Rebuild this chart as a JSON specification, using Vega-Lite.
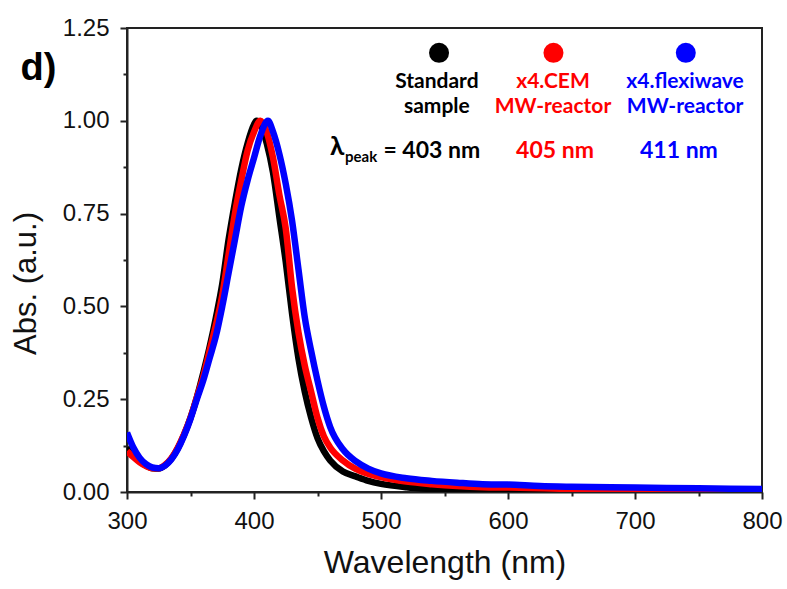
{
  "$schema": "https://vega.github.io/schema/vega-lite/v6.json",
  "width": 635,
  "height": 464,
  "autosize": {"type": "none"},
  "padding": {"left": 127, "top": 28, "right": 25, "bottom": 97},
  "background": "white",
  "config": {
    "view": {"stroke": "#222", "strokeWidth": 2},
    "axis": {
      "domainColor": "#222", "domainWidth": 2, "tickColor": "#222", "tickWidth": 2,
      "grid": false, "labelFont": "Liberation Sans", "labelFontSize": 24, "labelColor": "#111", "labelFlush": false, "labelOverlap": false,
      "titleFont": "Liberation Sans", "titleFontSize": 32, "titleFontWeight": "normal", "titleColor": "#111"
    }
  },
  "datasets": {
    "spectra": [
      {"wl":300,"s":"Standard","a":0.12},{"wl":305,"s":"Standard","a":0.1},{"wl":310,"s":"Standard","a":0.083},{"wl":315,"s":"Standard","a":0.071},{"wl":320,"s":"Standard","a":0.064},{"wl":325,"s":"Standard","a":0.063},{"wl":330,"s":"Standard","a":0.072},{"wl":335,"s":"Standard","a":0.09},{"wl":340,"s":"Standard","a":0.118},{"wl":345,"s":"Standard","a":0.155},{"wl":350,"s":"Standard","a":0.2},{"wl":355,"s":"Standard","a":0.255},{"wl":360,"s":"Standard","a":0.32},{"wl":365,"s":"Standard","a":0.39},{"wl":370,"s":"Standard","a":0.47},{"wl":375,"s":"Standard","a":0.56},{"wl":380,"s":"Standard","a":0.68},{"wl":385,"s":"Standard","a":0.78},{"wl":390,"s":"Standard","a":0.87},{"wl":395,"s":"Standard","a":0.94},{"wl":400,"s":"Standard","a":0.99},{"wl":402,"s":"Standard","a":1.0},{"wl":405,"s":"Standard","a":0.99},{"wl":410,"s":"Standard","a":0.94},{"wl":415,"s":"Standard","a":0.86},{"wl":420,"s":"Standard","a":0.74},{"wl":425,"s":"Standard","a":0.62},{"wl":430,"s":"Standard","a":0.48},{"wl":435,"s":"Standard","a":0.36},{"wl":440,"s":"Standard","a":0.27},{"wl":445,"s":"Standard","a":0.2},{"wl":450,"s":"Standard","a":0.145},{"wl":455,"s":"Standard","a":0.11},{"wl":460,"s":"Standard","a":0.085},{"wl":470,"s":"Standard","a":0.055},{"wl":480,"s":"Standard","a":0.042},{"wl":490,"s":"Standard","a":0.03},{"wl":500,"s":"Standard","a":0.022},{"wl":520,"s":"Standard","a":0.013},{"wl":540,"s":"Standard","a":0.008},{"wl":560,"s":"Standard","a":0.005},{"wl":580,"s":"Standard","a":0.004},{"wl":600,"s":"Standard","a":0.003},{"wl":650,"s":"Standard","a":0.002},{"wl":700,"s":"Standard","a":0.001},{"wl":800,"s":"Standard","a":0.0},
      {"wl":300,"s":"CEM","a":0.11},{"wl":305,"s":"CEM","a":0.094},{"wl":310,"s":"CEM","a":0.08},{"wl":315,"s":"CEM","a":0.07},{"wl":320,"s":"CEM","a":0.064},{"wl":325,"s":"CEM","a":0.064},{"wl":330,"s":"CEM","a":0.073},{"wl":335,"s":"CEM","a":0.091},{"wl":340,"s":"CEM","a":0.119},{"wl":345,"s":"CEM","a":0.156},{"wl":350,"s":"CEM","a":0.2},{"wl":355,"s":"CEM","a":0.255},{"wl":360,"s":"CEM","a":0.31},{"wl":365,"s":"CEM","a":0.38},{"wl":370,"s":"CEM","a":0.45},{"wl":375,"s":"CEM","a":0.53},{"wl":380,"s":"CEM","a":0.64},{"wl":385,"s":"CEM","a":0.75},{"wl":390,"s":"CEM","a":0.84},{"wl":395,"s":"CEM","a":0.92},{"wl":400,"s":"CEM","a":0.97},{"wl":405,"s":"CEM","a":1.0},{"wl":410,"s":"CEM","a":0.97},{"wl":415,"s":"CEM","a":0.9},{"wl":420,"s":"CEM","a":0.8},{"wl":425,"s":"CEM","a":0.71},{"wl":430,"s":"CEM","a":0.55},{"wl":435,"s":"CEM","a":0.43},{"wl":440,"s":"CEM","a":0.34},{"wl":445,"s":"CEM","a":0.27},{"wl":450,"s":"CEM","a":0.2},{"wl":455,"s":"CEM","a":0.15},{"wl":460,"s":"CEM","a":0.12},{"wl":470,"s":"CEM","a":0.085},{"wl":480,"s":"CEM","a":0.062},{"wl":490,"s":"CEM","a":0.049},{"wl":500,"s":"CEM","a":0.04},{"wl":520,"s":"CEM","a":0.028},{"wl":540,"s":"CEM","a":0.021},{"wl":560,"s":"CEM","a":0.016},{"wl":580,"s":"CEM","a":0.013},{"wl":600,"s":"CEM","a":0.012},{"wl":650,"s":"CEM","a":0.008},{"wl":700,"s":"CEM","a":0.005},{"wl":750,"s":"CEM","a":0.004},{"wl":800,"s":"CEM","a":0.003},
      {"wl":300,"s":"flexiwave","a":0.16},{"wl":305,"s":"flexiwave","a":0.12},{"wl":310,"s":"flexiwave","a":0.092},{"wl":315,"s":"flexiwave","a":0.075},{"wl":320,"s":"flexiwave","a":0.066},{"wl":325,"s":"flexiwave","a":0.064},{"wl":330,"s":"flexiwave","a":0.071},{"wl":335,"s":"flexiwave","a":0.088},{"wl":340,"s":"flexiwave","a":0.115},{"wl":345,"s":"flexiwave","a":0.152},{"wl":350,"s":"flexiwave","a":0.197},{"wl":355,"s":"flexiwave","a":0.25},{"wl":360,"s":"flexiwave","a":0.3},{"wl":365,"s":"flexiwave","a":0.36},{"wl":370,"s":"flexiwave","a":0.42},{"wl":375,"s":"flexiwave","a":0.5},{"wl":380,"s":"flexiwave","a":0.59},{"wl":385,"s":"flexiwave","a":0.68},{"wl":390,"s":"flexiwave","a":0.77},{"wl":395,"s":"flexiwave","a":0.84},{"wl":400,"s":"flexiwave","a":0.9},{"wl":405,"s":"flexiwave","a":0.96},{"wl":411,"s":"flexiwave","a":1.0},{"wl":415,"s":"flexiwave","a":0.97},{"wl":420,"s":"flexiwave","a":0.91},{"wl":425,"s":"flexiwave","a":0.83},{"wl":430,"s":"flexiwave","a":0.73},{"wl":435,"s":"flexiwave","a":0.6},{"wl":440,"s":"flexiwave","a":0.47},{"wl":445,"s":"flexiwave","a":0.38},{"wl":450,"s":"flexiwave","a":0.3},{"wl":455,"s":"flexiwave","a":0.23},{"wl":460,"s":"flexiwave","a":0.175},{"wl":470,"s":"flexiwave","a":0.115},{"wl":480,"s":"flexiwave","a":0.083},{"wl":490,"s":"flexiwave","a":0.063},{"wl":500,"s":"flexiwave","a":0.05},{"wl":520,"s":"flexiwave","a":0.037},{"wl":540,"s":"flexiwave","a":0.03},{"wl":560,"s":"flexiwave","a":0.025},{"wl":580,"s":"flexiwave","a":0.021},{"wl":600,"s":"flexiwave","a":0.02},{"wl":625,"s":"flexiwave","a":0.016},{"wl":650,"s":"flexiwave","a":0.014},{"wl":700,"s":"flexiwave","a":0.012},{"wl":750,"s":"flexiwave","a":0.01},{"wl":800,"s":"flexiwave","a":0.008}
    ],
    "dots": [
      {"wl":545.7,"s":"Standard","a":1.183},
      {"wl":635.8,"s":"CEM","a":1.183},
      {"wl":740,"s":"flexiwave","a":1.183}
    ],
    "labels": [
      {"wl":544,"s":"Standard","a":1.089,"t":"Standard"},
      {"wl":544,"s":"Standard","a":1.02,"t":"sample"},
      {"wl":635.4,"s":"CEM","a":1.089,"t":"x4.CEM"},
      {"wl":635.4,"s":"CEM","a":1.02,"t":"MW-reactor"},
      {"wl":739.4,"s":"flexiwave","a":1.089,"t":"x4.flexiwave"},
      {"wl":739.4,"s":"flexiwave","a":1.02,"t":"MW-reactor"}
    ],
    "peaks": [
      {"wl":540,"s":"Standard","a":0.9,"t":"= 403 nm"},
      {"wl":637,"s":"CEM","a":0.9,"t":"405 nm"},
      {"wl":734.6,"s":"flexiwave","a":0.9,"t":"411 nm"}
    ]
  },
  "encoding": {
    "x": {"field": "wl", "type": "quantitative", "scale": {"domain": [300, 800], "nice": false, "zero": false},
      "axis": {"orient": "bottom", "title": "Wavelength (nm)", "values": [300,350,400,450,500,550,600,650,700,750,800],
        "labelExpr": "datum.value % 100 == 0 ? datum.label : ''",
        "tickSize": {"condition": {"test": "datum.value % 100 != 0", "value": 4}, "value": 7},
        "labelPadding": 10, "titlePadding": 14}},
    "y": {"field": "a", "type": "quantitative", "scale": {"domain": [0, 1.25], "nice": false},
      "axis": {"orient": "left", "title": "Abs. (a.u.)", "values": [0,0.125,0.25,0.375,0.5,0.625,0.75,0.875,1,1.125,1.25], "format": ".2f",
        "labelExpr": "round(datum.value * 8) % 2 == 0 ? datum.label : ''",
        "tickSize": {"condition": {"test": "round(datum.value * 8) % 2 == 1", "value": 4}, "value": 7},
        "labelPadding": 11, "titleX": -101, "titleY": 255, "titleBaseline": "middle", "titleFontSize": 31}},
    "color": {"field": "s", "type": "nominal", "legend": null, "scale": {"domain": ["Standard", "CEM", "flexiwave"], "range": ["#000000", "#ff0000", "#0000ff"]}}
  },
  "layer": [
    {
      "data": {"name": "spectra"},
      "mark": {"type": "line", "strokeWidth": 6.5, "interpolate": "monotone", "clip": true},
      "encoding": {
        "order": {"field": "wl", "type": "quantitative"}
      }
    },
    {
      "data": {"name": "dots"},
      "mark": {"type": "point", "filled": true, "shape": "circle", "size": 400, "opacity": 1, "clip": false}
    },
    {
      "data": {"name": "labels"},
      "mark": {"type": "text", "font": "Lato", "fontWeight": "bold", "fontSize": 21, "align": "center", "baseline": "alphabetic"},
      "encoding": {"text": {"field": "t"}}
    },
    {
      "data": {"name": "peaks"},
      "mark": {"type": "text", "font": "Lato", "fontWeight": "bold", "fontSize": 23, "align": "center", "baseline": "alphabetic"},
      "encoding": {"text": {"field": "t"}}
    },
    {
      "data": {"values": [{"wl": 465.4, "a": 0.908, "s": "Standard", "t": "λ"}]},
      "mark": {"type": "text", "font": "Lato", "fontWeight": "bold", "fontSize": 26, "align": "center", "baseline": "alphabetic"},
      "encoding": {"text": {"field": "t"}}
    },
    {
      "data": {"values": [{"wl": 484.3, "a": 0.889, "s": "Standard", "t": "peak"}]},
      "mark": {"type": "text", "font": "Lato", "fontWeight": "bold", "fontSize": 15, "align": "center", "baseline": "alphabetic"},
      "encoding": {"text": {"field": "t"}}
    },
    {
      "data": {"values": [{"wl": 230.3, "a": 1.11, "s": "Standard", "t": "d)"}]},
      "mark": {"type": "text", "font": "Liberation Sans", "fontWeight": "bold", "fontSize": 38, "align": "center", "baseline": "alphabetic", "clip": false},
      "encoding": {"text": {"field": "t"}}
    }
  ]
}
